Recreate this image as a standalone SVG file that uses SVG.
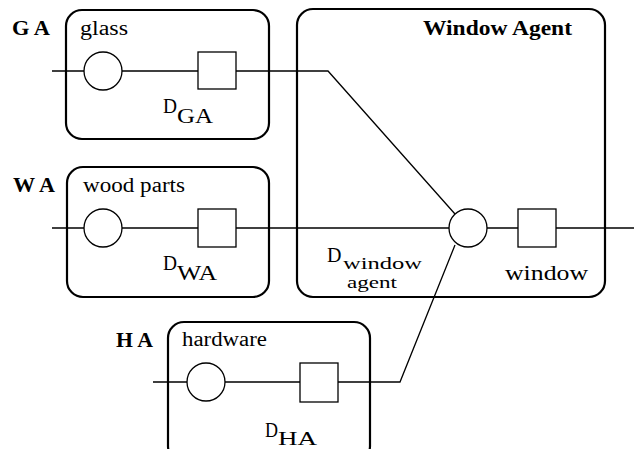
<svg xmlns="http://www.w3.org/2000/svg" width="634" height="449" viewBox="0 0 634 449">
<style>
.box{fill:none;stroke:#000;stroke-width:2.2}
.sh{fill:#fff;stroke:#000;stroke-width:1.3}
.ln{fill:none;stroke:#000;stroke-width:1.3}
text{font-family:"Liberation Serif","Times New Roman",serif;font-size:20px;fill:#000}
.b{font-weight:bold}
.s{font-size:18px}
.t{font-size:17px}
</style>
<rect width="634" height="449" fill="#fff"/>
<g id="GA">
<rect class="box" x="66" y="10" width="203" height="129" rx="16"/>
<text class="b" x="12" y="35" textLength="38" lengthAdjust="spacingAndGlyphs">G A</text>
<text x="80" y="35" textLength="48" lengthAdjust="spacingAndGlyphs">glass</text>
<text x="163" y="113" textLength="14" lengthAdjust="spacingAndGlyphs">D</text>
<text x="177" y="123" textLength="36" lengthAdjust="spacingAndGlyphs">GA</text>
</g>
<g id="WA">
<rect class="box" x="67" y="167" width="202" height="130" rx="16"/>
<text class="b" x="13" y="192" textLength="42" lengthAdjust="spacingAndGlyphs">W A</text>
<text x="83" y="192" textLength="102" lengthAdjust="spacingAndGlyphs">wood parts</text>
<text x="163" y="270" textLength="14" lengthAdjust="spacingAndGlyphs">D</text>
<text x="177" y="280" textLength="40" lengthAdjust="spacingAndGlyphs">WA</text>
</g>
<g id="HA">
<rect class="box" x="168" y="322" width="202" height="140" rx="16"/>
<text class="b" x="116" y="347" textLength="37" lengthAdjust="spacingAndGlyphs">H A</text>
<text x="182" y="346" textLength="85" lengthAdjust="spacingAndGlyphs">hardware</text>
<text x="265" y="437" textLength="13" lengthAdjust="spacingAndGlyphs">D</text>
<text class="s" x="278" y="445" textLength="39" lengthAdjust="spacingAndGlyphs">HA</text>
</g>
<g id="WindowAgent">
<rect class="box" x="297" y="9" width="308" height="288" rx="16"/>
<text class="b" x="423" y="35" textLength="149" lengthAdjust="spacingAndGlyphs">Window Agent</text>
<text x="327" y="262">D<tspan class="t" x="343" y="269" textLength="79" lengthAdjust="spacingAndGlyphs">window</tspan><tspan class="t" x="347" y="288" textLength="50" lengthAdjust="spacingAndGlyphs">agent</tspan></text>
<text x="505" y="280" textLength="83" lengthAdjust="spacingAndGlyphs">window</text>
</g>
<g id="connectors">
<polyline class="ln" points="52,71 328,71 455,214"/>
<line class="ln" x1="52" y1="228" x2="634" y2="228"/>
<polyline class="ln" points="153,382 400,382 455,245"/>
</g>
<g id="GA-in"><circle class="sh" cx="103" cy="71" r="19"/><rect class="sh" x="198" y="52" width="38" height="37"/></g>
<g id="WA-in"><circle class="sh" cx="103" cy="228" r="19"/><rect class="sh" x="198" y="209" width="38" height="38"/></g>
<g id="HA-in"><circle class="sh" cx="206" cy="382" r="19"/><rect class="sh" x="300" y="363" width="38" height="39"/></g>
<g id="WindowAgent-in"><circle class="sh" cx="468" cy="228" r="19"/><rect class="sh" x="518" y="209" width="38" height="38"/></g>
</svg>
